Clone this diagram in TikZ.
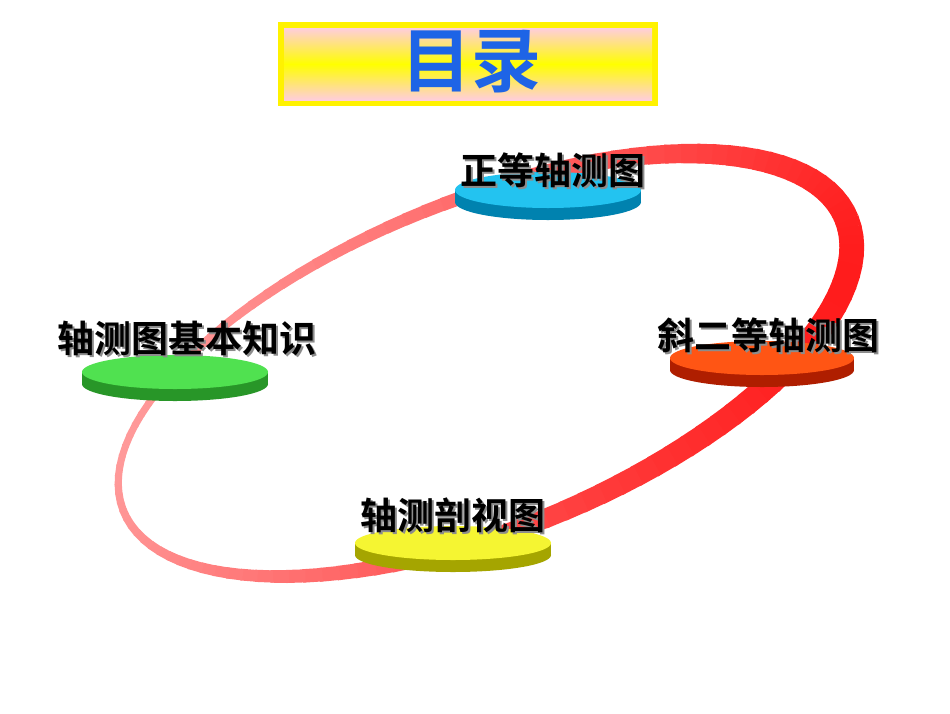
\documentclass[tikz,border=0pt]{standalone}
\usepackage{fontspec}
\newfontfamily\cjk{Noto Sans CJK SC}[BoldFont={Noto Sans CJK SC Bold}]
\usetikzlibrary{shapes.geometric}
\definecolor{ttlblue}{RGB}{30,100,230}
\definecolor{dcyan}{RGB}{35,195,240}\definecolor{dcyanr}{RGB}{0,130,175}
\definecolor{dora}{RGB}{255,85,20}\definecolor{dorar}{RGB}{175,30,0}
\definecolor{dgrn}{RGB}{80,225,80}\definecolor{dgrnr}{RGB}{40,150,40}
\definecolor{dyel}{RGB}{245,245,50}\definecolor{dyelr}{RGB}{165,165,0}
\tikzset{
  lbl/.style={font=\cjk\bfseries\fontsize{37}{39}\selectfont, text=black, inner sep=0pt},
  shad/.style={font=\cjk\bfseries\fontsize{37}{39}\selectfont, text=black!45, inner sep=0pt},
}
\newcommand{\disk}[6]{% x y rx ry topcol rimcol
  \fill[#6] (#1,#2+12) ellipse[x radius=#3,y radius=#4];
  \fill[#6] (#1-#3,#2) rectangle (#1+#3,#2+12);
  \fill[#5] (#1,#2) ellipse[x radius=#3,y radius=#4];
}
\begin{document}
\begin{tikzpicture}[x=1pt,y=-1pt]
\useasboundingbox (0,0) rectangle (950,713);
\fill[white] (0,0) rectangle (950,713);
% title
\fill[yellow] (278,22) rectangle (658,106);
\shade[top color=pink!90!magenta!60, bottom color=pink!90!magenta!60, middle color=yellow] (284,28) rectangle (652,100);
\node[font=\cjk\bfseries\fontsize{70}{72}\selectfont, text=ttlblue] (title) at (471,62) {目录};
% ring
\foreach \t in {0,3,...,357} {
  \pgfmathsetmacro{\w}{16+9*cos(\t-20)}
  \pgfmathsetmacro{\c}{50+50*cos(\t-20)}
  \pgfmathsetmacro{\tt}{\t+3.5}
  \definecolor{segc}{RGB}{255,35,35}
  \colorlet{segcol}{segc!\c!pink!80!red}
  \draw[line width=\w pt, segcol] ({485+390*cos(\t)*cos(22)+165*sin(\t)*sin(22)},{365-390*cos(\t)*sin(22)+165*sin(\t)*cos(22)})
     -- ({485+390*cos(\tt)*cos(22)+165*sin(\tt)*sin(22)},{365-390*cos(\tt)*sin(22)+165*sin(\tt)*cos(22)});
}
% disks
\disk{548}{190}{93}{18}{dcyan}{dcyanr}
\disk{762}{358}{92}{17}{dora}{dorar}
\disk{175}{372}{93}{17}{dgrn}{dgrnr}
\disk{453}{543}{98}{17}{dyel}{dyelr}
% labels
\node[shad] at (555,172) {正等轴测图};
\node[lbl] (n1) at (553,170) {正等轴测图};
\node[shad] at (770,337) {斜二等轴测图};
\node[lbl] (n2) at (768,335) {斜二等轴测图};
\node[shad] at (189,340) {轴测图基本知识};
\node[lbl] (n3) at (187,338) {轴测图基本知识};
\node[shad] at (455,517) {轴测剖视图};
\node[lbl] (n4) at (453,515) {轴测剖视图};
\end{tikzpicture}
\end{document}
